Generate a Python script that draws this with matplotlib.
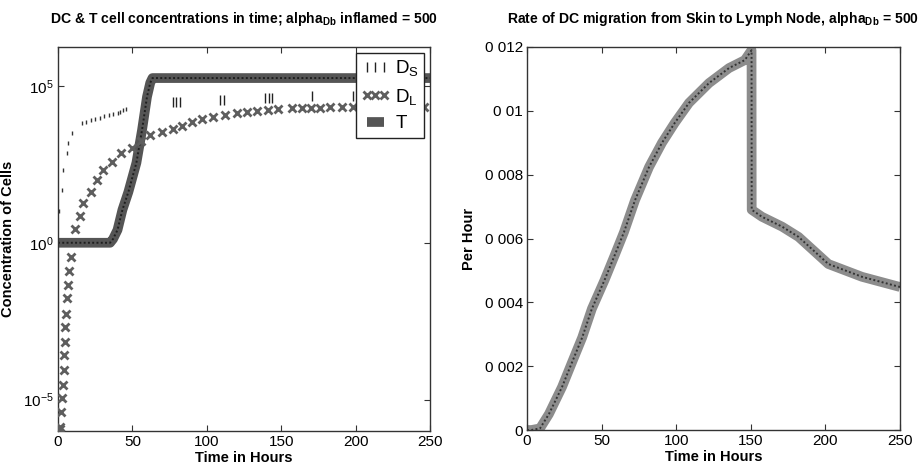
import matplotlib
matplotlib.use("Agg")
import matplotlib.pyplot as plt
import numpy as np
from matplotlib.ticker import FixedLocator, FixedFormatter, NullLocator

FONT = ['Liberation Sans', 'DejaVu Sans']
plt.rcParams['font.family'] = FONT
plt.rcParams['mathtext.fontset'] = 'custom'
plt.rcParams['mathtext.rm'] = 'Liberation Sans'
plt.rcParams['mathtext.it'] = 'Liberation Sans:italic'
plt.rcParams['mathtext.bf'] = 'Liberation Sans:bold'

# ---------------- data: left panel (log10 of concentrations) ----------------
ds_t = [1.0, 2.7, 3.4, 5.9, 6.7, 9.4, 16, 19, 22, 25, 28, 31, 34, 37, 40, 42, 44, 45.5,
        77, 79.5, 82, 109, 111.5, 139, 141.5, 144, 170.5, 198, 201, 228, 231, 233.5]
ds_log = [1.0, 1.69, 2.32, 2.87, 3.18, 3.5, 3.82, 3.86, 3.9, 3.95, 3.99, 4.03, 4.07, 4.1,
          4.14, 4.18, 4.22, 4.26, 4.49, 4.5, 4.5, 4.55, 4.55, 4.62, 4.62, 4.62, 4.68,
          4.68, 4.68, 4.7, 4.7, 4.7]

dl_t = [1.2, 1.6, 1.9, 3.0, 3.4, 3.8, 4.2, 4.5, 5.0, 5.5,
        5.9, 6.5, 7.2, 9.0, 11.5, 14.5, 17, 22, 26.5, 30.5,
        36.5, 42.5, 50, 56, 62, 70, 77, 83.5, 90, 97,
        104, 112, 120, 127, 134, 141, 148, 157, 164, 170,
        176, 183, 191, 198, 204.5, 211, 218, 225, 232, 239, 246]
dl_log = [-5.95, -5.86, -5.41, -4.94, -4.52, -4.04, -3.57, -3.15, -2.68, -2.26,
          -1.75, -1.34, -0.89, -0.45, 0.45, 0.86, 1.27, 1.62, 2.0, 2.32,
          2.58, 2.87, 3.03, 3.25, 3.44, 3.54, 3.63, 3.73, 3.85, 3.95,
          4.01, 4.08, 4.14, 4.17, 4.2, 4.24, 4.27, 4.3, 4.3, 4.31,
          4.31, 4.32, 4.32, 4.33, 4.33, 4.33, 4.33, 4.33, 4.33, 4.33, 4.33]

tc_t = [0, 35, 37, 40, 43.3, 47.3, 52.7, 56.5, 59.8, 62, 63.5, 250]
tc_log = [0, 0, 0.12, 0.41, 1.05, 1.62, 2.55, 3.6, 4.65, 5.1, 5.25, 5.25]

left_yticks = [1e-5, 1e0, 1e5]
left_yticklabels = [r'$10^{-5}$', r'$10^{0}$', r'$10^{5}$']
xticks = [0, 50, 100, 150, 200, 250]

# ---------------- data: right panel ----------------
rate_t = [0, 3, 8.7, 14.7, 23.5, 30, 37, 43.5, 52, 59, 65, 72.4, 81.8, 90.5, 99, 108.6,
          122, 135.4, 146, 150.5, 150.6, 157.5, 171, 182, 202, 224.5, 250]
rate_v = [0, 0, 0.00005, 0.0005, 0.00135, 0.0021, 0.0029, 0.0038, 0.0047, 0.0055, 0.0062,
          0.0072, 0.00824, 0.0090, 0.00962, 0.01025, 0.01087, 0.01134, 0.01159, 0.0119,
          0.0069, 0.00668, 0.00637, 0.00605, 0.0052, 0.0048, 0.00448]
right_yticks = [0, 0.002, 0.004, 0.006, 0.008, 0.010, 0.012]
right_yticklabels = ['0', '0 002', '0 004', '0 006', '0 008', '0 01', '0 012']

DS = np.power(10.0, ds_log)
DL = np.power(10.0, dl_log)
TC = np.power(10.0, tc_log)

fig = plt.figure(figsize=(9.24, 4.75), dpi=100)
ax1 = fig.add_axes([58/924, 44/475, 372/924, 384/475])
ax2 = fig.add_axes([527/924, 45/475, 373/924, 383/475])

TICK_FS = 11
LAB_FS = 10.5
TITLE_FS = 10.1

def style(ax):
    for s in ax.spines.values():
        s.set_color('#333333')
        s.set_linewidth(1.0)
    ax.tick_params(direction='in', which='both', top=True, right=True,
                   labelsize=TICK_FS, length=4, width=0.8, color='#333333', pad=3)

# left
ax1.set_yscale('log')
ax1.plot(tc_t, TC, color='#555555', lw=7, solid_capstyle='butt', zorder=2,
         label=r'$\mathrm{T}$')
ax1.plot(tc_t, TC, color='#1e1e1e', lw=1.4, ls=(0, (1, 1.2)), zorder=2.1)
ax1.plot(dl_t, DL, ls='none', marker='x', ms=5.5, mew=2, color='#5e5e5e', zorder=3,
         label=r'$\mathrm{D_L}$')
ax1.plot(ds_t[:18], DS[:18], ls='none', marker='|', ms=3.5, mew=1, color='#333333', zorder=3)
ax1.plot(ds_t[18:], DS[18:], ls='none', marker='|', ms=7, mew=1, color='#222222', zorder=3,
         label=r'$\mathrm{D_S}$')
ax1.set_xlim(0, 250)
ax1.set_ylim(1e-6, 10**6.24)
ax1.yaxis.set_major_locator(FixedLocator(left_yticks))
ax1.yaxis.set_major_formatter(FixedFormatter(left_yticklabels))
ax1.yaxis.set_minor_locator(NullLocator())
ax1.set_xticks(xticks)
style(ax1)
ax1.set_xlabel('Time in Hours', fontsize=LAB_FS, fontweight='bold', labelpad=1)
ax1.set_ylabel('Concentration of Cells', fontsize=LAB_FS, fontweight='bold', labelpad=6)
ax1.set_title(r'DC & T cell concentrations in time; alpha$_{\mathbf{Db}}$ inflamed = 500',
              fontsize=TITLE_FS, fontweight='bold', pad=17)
h, l = ax1.get_legend_handles_labels()
order = [2, 1, 0]
leg = ax1.legend([h[i] for i in order], [l[i] for i in order], loc='upper right',
                 numpoints=3, fontsize=13.5, frameon=True, fancybox=False,
                 edgecolor='#222222', framealpha=1, borderaxespad=0.3,
                 handlelength=1.5, handletextpad=0.3, borderpad=0.3, labelspacing=0.45)
leg.get_frame().set_linewidth(1.0)

# right
ax2.plot(rate_t, rate_v, color='#8c8c8c', lw=7, solid_capstyle='butt', zorder=2)
ax2.plot(rate_t, rate_v, color='#333333', lw=1.4, ls=(0, (1, 1.2)), zorder=2.1)
ax2.set_xlim(0, 250)
ax2.set_ylim(0, 0.012)
ax2.yaxis.set_major_locator(FixedLocator(right_yticks))
ax2.yaxis.set_major_formatter(FixedFormatter(right_yticklabels))
ax2.set_xticks(xticks)
style(ax2)
ax2.set_xlabel('Time in Hours', fontsize=LAB_FS, fontweight='bold', labelpad=1)
ax2.set_ylabel('Per Hour', fontsize=LAB_FS, fontweight='bold', labelpad=6)
ax2.set_title(r'Rate of DC migration from Skin to Lymph Node, alpha$_{\mathbf{Db}}$ = 500',
              fontsize=TITLE_FS, fontweight='bold', pad=17)

fig.savefig('out.png', dpi=100)
